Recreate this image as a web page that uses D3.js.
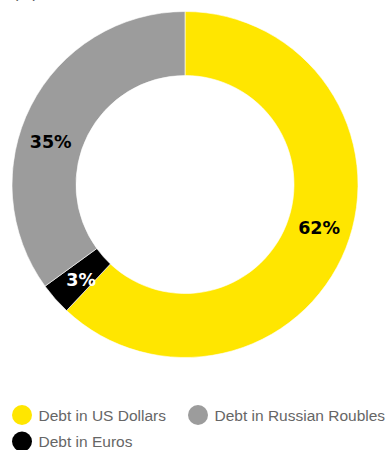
<!DOCTYPE html>
<html>
<head>
<meta charset="utf-8">
<script src="https://cdn.jsdelivr.net/npm/d3@7"></script>
<style>
  html, body { margin: 0; padding: 0; background: #fff; }
  svg { display: block; }
</style>
</head>
<body>
<div id="chart"></div>
<script>
// 数据
const categories = ["Debt in US Dollars", "Debt in Euros", "Debt in Russian Roubles"];
const values = [62, 3, 35];
const colors = ["#ffe600", "#000000", "#9c9c9c"];
const labelColors = ["#000000", "#ffffff", "#000000"];
// 图例顺序（两行）
const legendRows = [["Debt in US Dollars", "Debt in Russian Roubles"], ["Debt in Euros"]];

const width = 387;
const height = 450;
const cx = 185, cy = 184.5;
const outerR = 173, innerR = 109;

const svg = d3.select("#chart").append("svg")
    .attr("width", width)
    .attr("height", height);

// 被裁掉的单位标题
svg.append("text")
    .attr("x", 13)
    .attr("y", -2.5)
    .style("font-family", "'Liberation Sans', Arial, sans-serif")
    .style("font-size", "16px")
    .style("fill", "#555")
    .text("(%)");

const pie = d3.pie().sort(null).value(d => d.value);
const arc = d3.arc().innerRadius(innerR).outerRadius(outerR);
const data = categories.map((c, i) => ({ name: c, value: values[i], color: colors[i], labelColor: labelColors[i] }));
const arcs = pie(data);

const g = svg.append("g").attr("transform", `translate(${cx},${cy})`);

g.selectAll("path")
    .data(arcs)
    .enter()
    .append("path")
    .attr("d", arc)
    .attr("fill", d => d.data.color)
    .attr("stroke", "#fff")
    .attr("stroke-width", 0.6);

// 标签位置：大扇区略微往起点方向移动（按原图手工微调）
const labelNudge = { "Debt in US Dollars": -3.6, "Debt in Euros": -1.2, "Debt in Russian Roubles": -9.3 };
const labelR = (innerR + outerR) / 2;

g.selectAll("text.pct")
    .data(arcs)
    .enter()
    .append("text")
    .attr("class", "pct")
    .attr("transform", d => {
        const a = (d.startAngle + d.endAngle) / 2 + (labelNudge[d.data.name] || 0) * Math.PI / 180;
        return `translate(${labelR * Math.sin(a)},${-labelR * Math.cos(a)})`;
    })
    .attr("text-anchor", "middle")
    .attr("dy", "0.36em")
    .style("font-family", "'DejaVu Sans', sans-serif")
    .style("font-weight", "bold")
    .style("font-size", "17.5px")
    .style("fill", d => d.data.labelColor)
    .text(d => d.data.value + "%");

// 图例
const colorOf = d3.scaleOrdinal().domain(categories).range(colors);
const legendX = [22, 198];
const legendY = [415, 441.5];

legendRows.forEach((row, ri) => {
    row.forEach((name, ci) => {
        const lg = svg.append("g")
            .attr("transform", `translate(${legendX[ci]},${legendY[ri]})`);
        lg.append("circle")
            .attr("r", 10)
            .attr("fill", colorOf(name));
        lg.append("text")
            .attr("x", 16.5)
            .attr("dy", "0.36em")
            .style("font-family", "'Liberation Sans', Arial, sans-serif")
            .style("font-size", "15.5px")
            .style("fill", "#666")
            .text(name);
    });
});
</script>
</body>
</html>
